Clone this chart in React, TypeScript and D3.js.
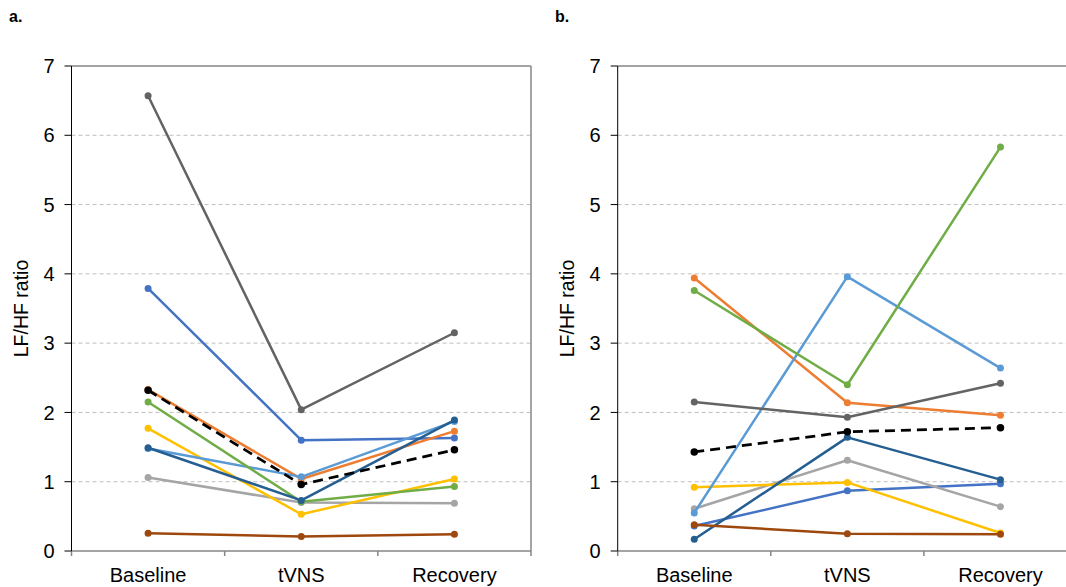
import React from "react";
import * as d3 from "d3";

const categories = ["Baseline", "tVNS", "Recovery"];
const yTicks = [0, 1, 2, 3, 4, 5, 6, 7];

// Panel a values (LF/HF ratio)
const aBlue = [3.79, 1.6, 1.63];
const aOrange = [2.33, 1.04, 1.73];
const aGrey = [1.06, 0.7, 0.69];
const aYellow = [1.77, 0.53, 1.04];
const aLightBlue = [1.48, 1.07, 1.87];
const aGreen = [2.15, 0.71, 0.93];
const aDarkBlue = [1.49, 0.73, 1.89];
const aBrown = [0.255, 0.21, 0.24];
const aDarkGrey = [6.57, 2.04, 3.15];
const aMean = [2.32, 0.96, 1.46];

// Panel b values
const bBlue = [0.36, 0.87, 0.97];
const bOrange = [3.94, 2.14, 1.96];
const bGrey = [0.61, 1.31, 0.64];
const bYellow = [0.92, 0.99, 0.26];
const bLightBlue = [0.55, 3.96, 2.64];
const bGreen = [3.76, 2.4, 5.83];
const bDarkBlue = [0.17, 1.64, 1.03];
const bBrown = [0.38, 0.25, 0.24];
const bDarkGrey = [2.15, 1.93, 2.42];
const bMean = [1.43, 1.72, 1.78];

const seriesColors = [
  "#4472C4",
  "#ED7D31",
  "#A5A5A5",
  "#FFC000",
  "#5B9BD5",
  "#70AD47",
  "#255E91",
  "#9E480E",
  "#636363",
];

const panelA = [aBlue, aOrange, aGrey, aYellow, aLightBlue, aGreen, aDarkBlue, aBrown, aDarkGrey];
const panelB = [bBlue, bOrange, bGrey, bYellow, bLightBlue, bGreen, bDarkBlue, bBrown, bDarkGrey];

const FONT = "'Liberation Sans', Arial, sans-serif";

type PanelProps = {
  left: number;
  right: number;
  label: string;
  labelX: number;
  series: number[][];
  mean: number[];
};

function Panel({ left, right, label, labelX, series, mean }: PanelProps) {
  const top = 66;
  const bottom = 551;
  const y = d3.scaleLinear().domain([0, 7]).range([bottom, top]);
  const x = d3.scaleBand<string>().domain(categories).range([left, right]).padding(0);
  const cx = (c: string) => (x(c) as number) + x.bandwidth() / 2;
  const line = d3
    .line<number>()
    .x((_, i) => cx(categories[i]))
    .y((d) => y(d));
  const boundaries = [left, ...categories.map((c) => (x(c) as number) + x.bandwidth())];

  return (
    <g>
      <text x={labelX} y={22} fontFamily={FONT} fontWeight="bold" fontSize={16} fill="#000">
        {label}
      </text>
      {/* gridlines */}
      {yTicks.filter((t) => t > 0 && t < 7).map((t) => (
        <line
          key={"g" + t}
          x1={left}
          x2={right}
          y1={y(t)}
          y2={y(t)}
          stroke="#BFBFBF"
          strokeWidth={1}
          strokeDasharray="4,3"
        />
      ))}
      {/* plot border: top and right */}
      <line x1={left} x2={right} y1={y(7)} y2={y(7)} stroke="#868686" strokeWidth={1.5} />
      <line x1={right} x2={right} y1={top} y2={bottom} stroke="#868686" strokeWidth={1.5} />
      {/* x axis */}
      <line x1={left} x2={right} y1={bottom} y2={bottom} stroke="#868686" strokeWidth={1.5} />
      {boundaries.map((b, i) => (
        <line key={"xt" + i} x1={b} x2={b} y1={bottom} y2={bottom + 5} stroke="#868686" strokeWidth={1.5} />
      ))}
      {/* y axis */}
      <line x1={left} x2={left} y1={top} y2={bottom} stroke="#000" strokeWidth={1} />
      {yTicks.map((t) => (
        <g key={"yt" + t}>
          <line x1={left - 7} x2={left} y1={y(t)} y2={y(t)} stroke="#000" strokeWidth={1} />
          <text
            x={left - 17}
            y={y(t)}
            dy="0.36em"
            textAnchor="end"
            fontFamily={FONT}
            fontSize={20}
            fill="#000"
          >
            {t}
          </text>
        </g>
      ))}
      <text
        transform={`translate(${left - 44},${(top + bottom) / 2}) rotate(-90)`}
        textAnchor="middle"
        fontFamily={FONT}
        fontSize={19.5}
        fill="#000"
      >
        LF/HF ratio
      </text>
      {categories.map((c) => (
        <text
          key={"xl" + c}
          x={cx(c)}
          y={582}
          textAnchor="middle"
          fontFamily={FONT}
          fontSize={20}
          fill="#000"
        >
          {c}
        </text>
      ))}
      {/* series */}
      {series.map((s, si) => (
        <g key={"s" + si}>
          <path d={line(s) || ""} fill="none" stroke={seriesColors[si]} strokeWidth={2.5} strokeLinejoin="round" />
          {s.map((v, i) => (
            <circle key={i} cx={cx(categories[i])} cy={y(v)} r={3.5} fill={seriesColors[si]} />
          ))}
        </g>
      ))}
      <g>
        <path
          d={line(mean) || ""}
          fill="none"
          stroke="#000"
          strokeWidth={2.75}
          strokeDasharray="10,6"
        />
        {mean.map((v, i) => (
          <circle key={i} cx={cx(categories[i])} cy={y(v)} r={3.75} fill="#000" />
        ))}
      </g>
    </g>
  );
}

export default function App() {
  return (
    <svg
      width={1066}
      height={587}
      style={{ position: "absolute", left: 0, top: 0, background: "#fff" }}
    >
      <rect x={0} y={0} width={1066} height={587} fill="#fff" />
      <Panel left={71.5} right={531} label="a." labelX={9} series={panelA} mean={aMean} />
      <Panel left={617.7} right={1077} label="b." labelX={555} series={panelB} mean={bMean} />
    </svg>
  );
}
